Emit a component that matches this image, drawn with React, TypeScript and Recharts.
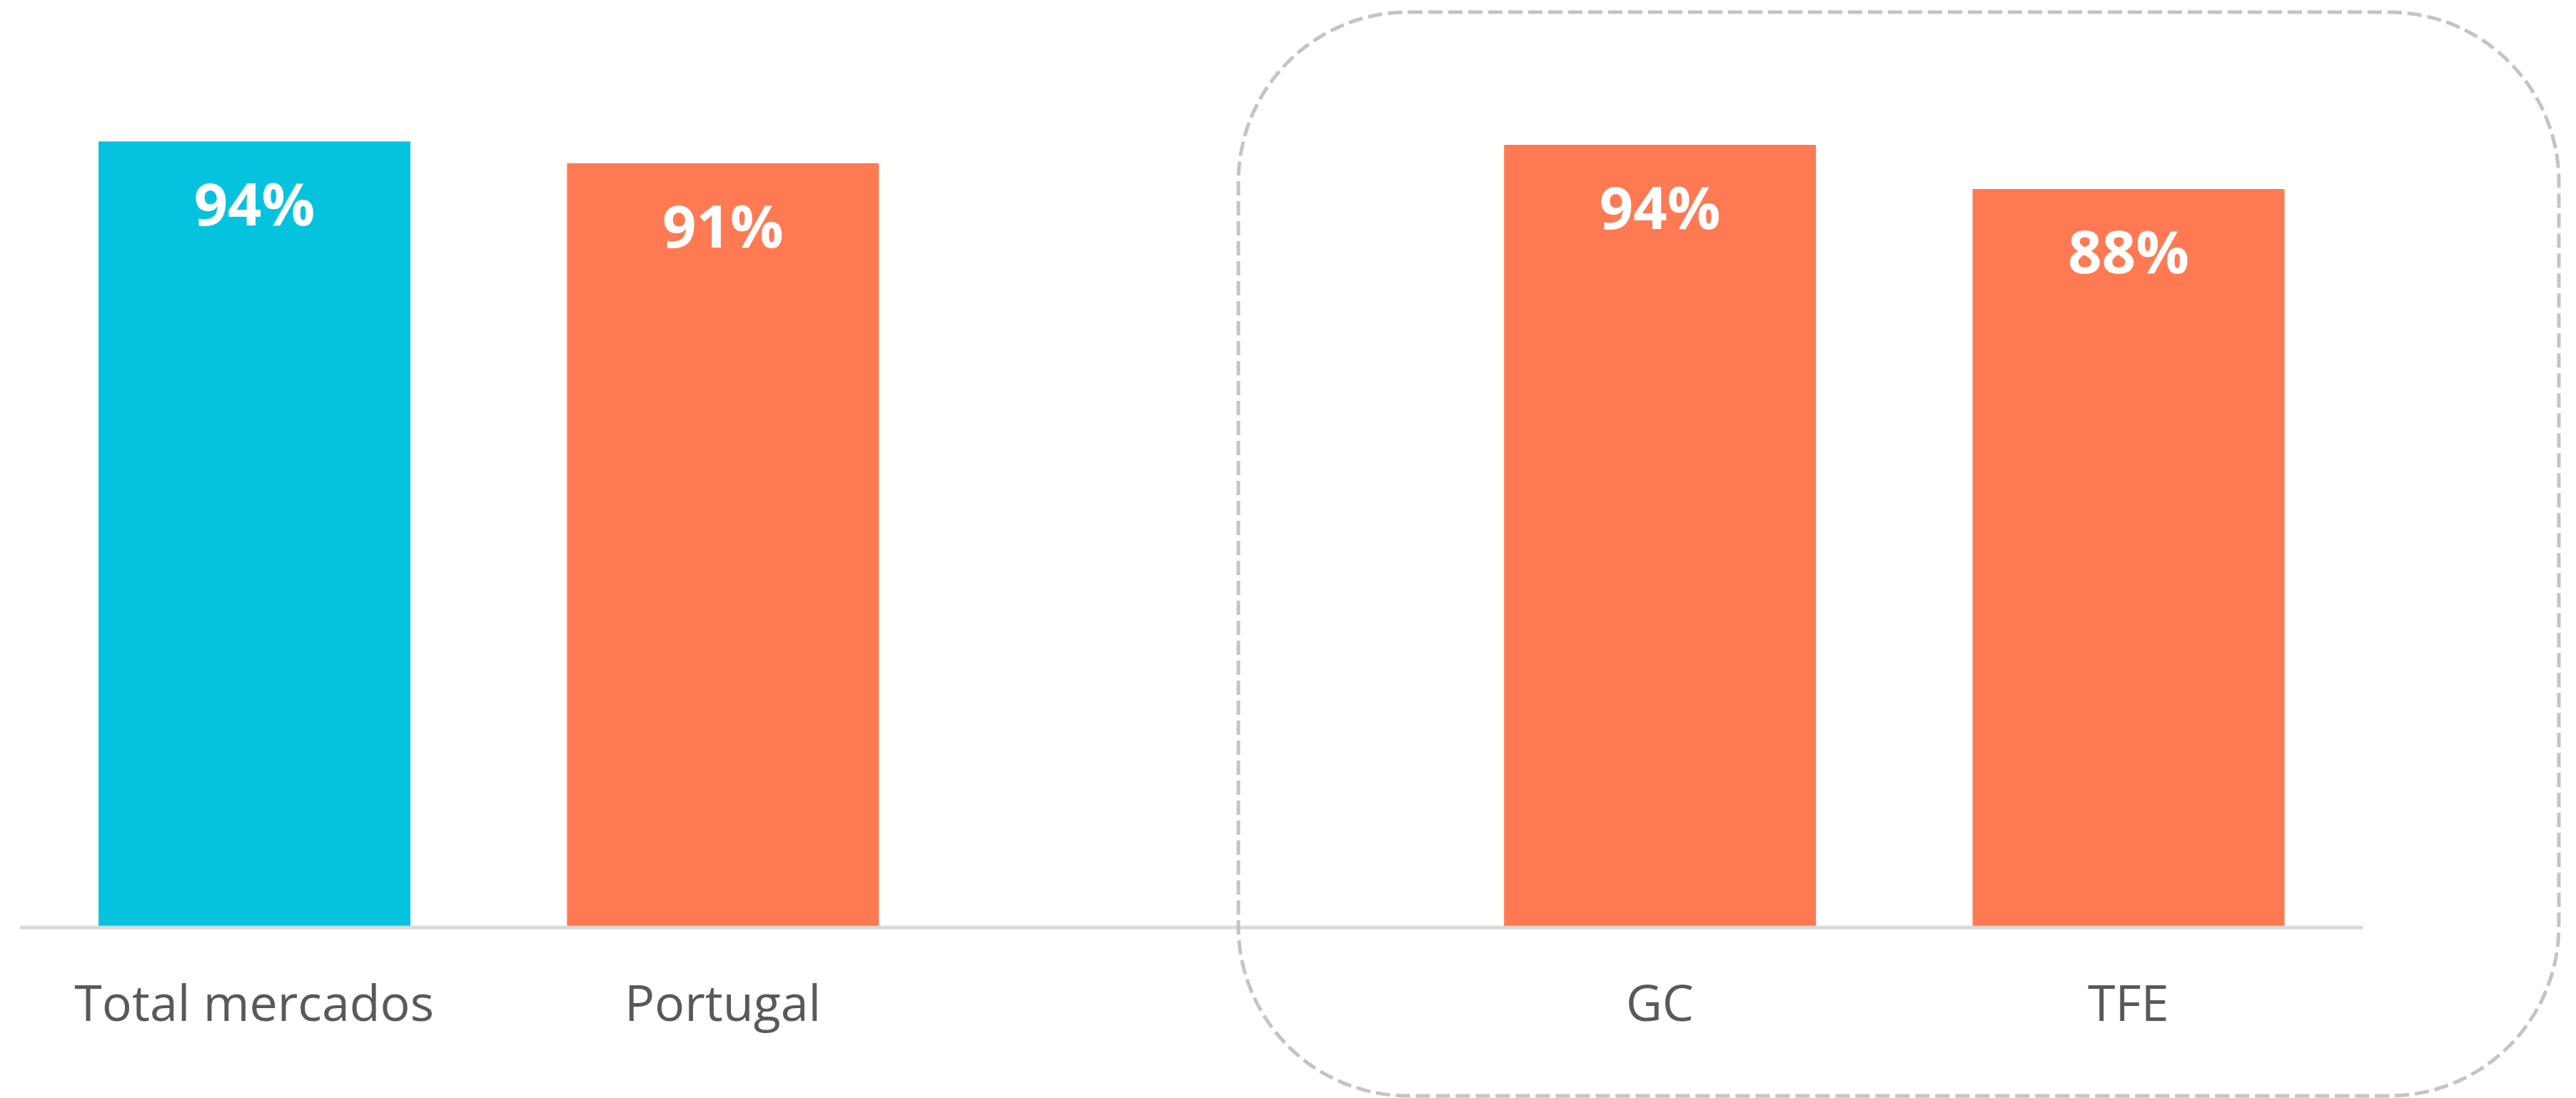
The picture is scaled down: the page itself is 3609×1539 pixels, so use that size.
import React from 'react';
import { BarChart, Bar, XAxis, YAxis, Cell, LabelList } from 'recharts';

// categories (blank slot keeps the gap before the island group)
const categories = ['Total mercados', 'Portugal', '', 'GC', 'TFE'];
const values = [94, 91.4, null, 93.6, 88.3];
const barColors = ['#05C3DE', '#FF7A53', '#FF7A53', '#FF7A53', '#FF7A53'];

const W = 3609;
const H = 1539;
const FONT = '"Open Sans", "DejaVu Sans", sans-serif';

const chartData = categories.map((name, i) => ({ name, value: values[i] }));

const ValueLabel = (props: any) => {
  const { x, y, width, value } = props;
  if (value == null) return null;
  return (
    <text
      x={x + width / 2}
      y={y + 118}
      textAnchor="middle"
      fill="#FFFFFF"
      fontFamily={FONT}
      fontWeight={700}
      fontSize={83}
    >
      {`${Math.round(value)}%`}
    </text>
  );
};

const CategoryTick = (props: any) => {
  const { x, y, payload } = props;
  return (
    <text x={x} y={y + 131} textAnchor="middle" fill="#595959" fontFamily={FONT} fontSize={70}>
      {payload.value}
    </text>
  );
};

const App: React.FC = () => {
  return (
    <div style={{ position: 'absolute', left: 0, top: 0, width: W, height: H, background: '#fff' }}>
      <BarChart
        width={W}
        height={H}
        data={chartData}
        margin={{ top: 128, right: 299, left: 28, bottom: 139 }}
      >
        <XAxis
          dataKey="name"
          axisLine={{ stroke: '#D9D9D9', strokeWidth: 5 }}
          tickLine={false}
          tickSize={0}
          tickMargin={0}
          height={100}
          interval={0}
          tick={<CategoryTick />}
        />
        <YAxis hide domain={[0, 100]} />
        <Bar dataKey="value" barSize={437} isAnimationActive={false}>
          {chartData.map((d, i) => (
            <Cell key={i} fill={barColors[i]} />
          ))}
          <LabelList dataKey="value" content={<ValueLabel />} />
        </Bar>
      </BarChart>
      <svg
        width={W}
        height={H}
        style={{ position: 'absolute', left: 0, top: 0, pointerEvents: 'none' }}
      >
        <rect
          x={1735}
          y={17}
          width={1850}
          height={1519}
          rx={238}
          ry={238}
          fill="none"
          stroke="#C4C4C4"
          strokeWidth={5}
          strokeDasharray="20 8"
        />
      </svg>
    </div>
  );
};

export default App;
